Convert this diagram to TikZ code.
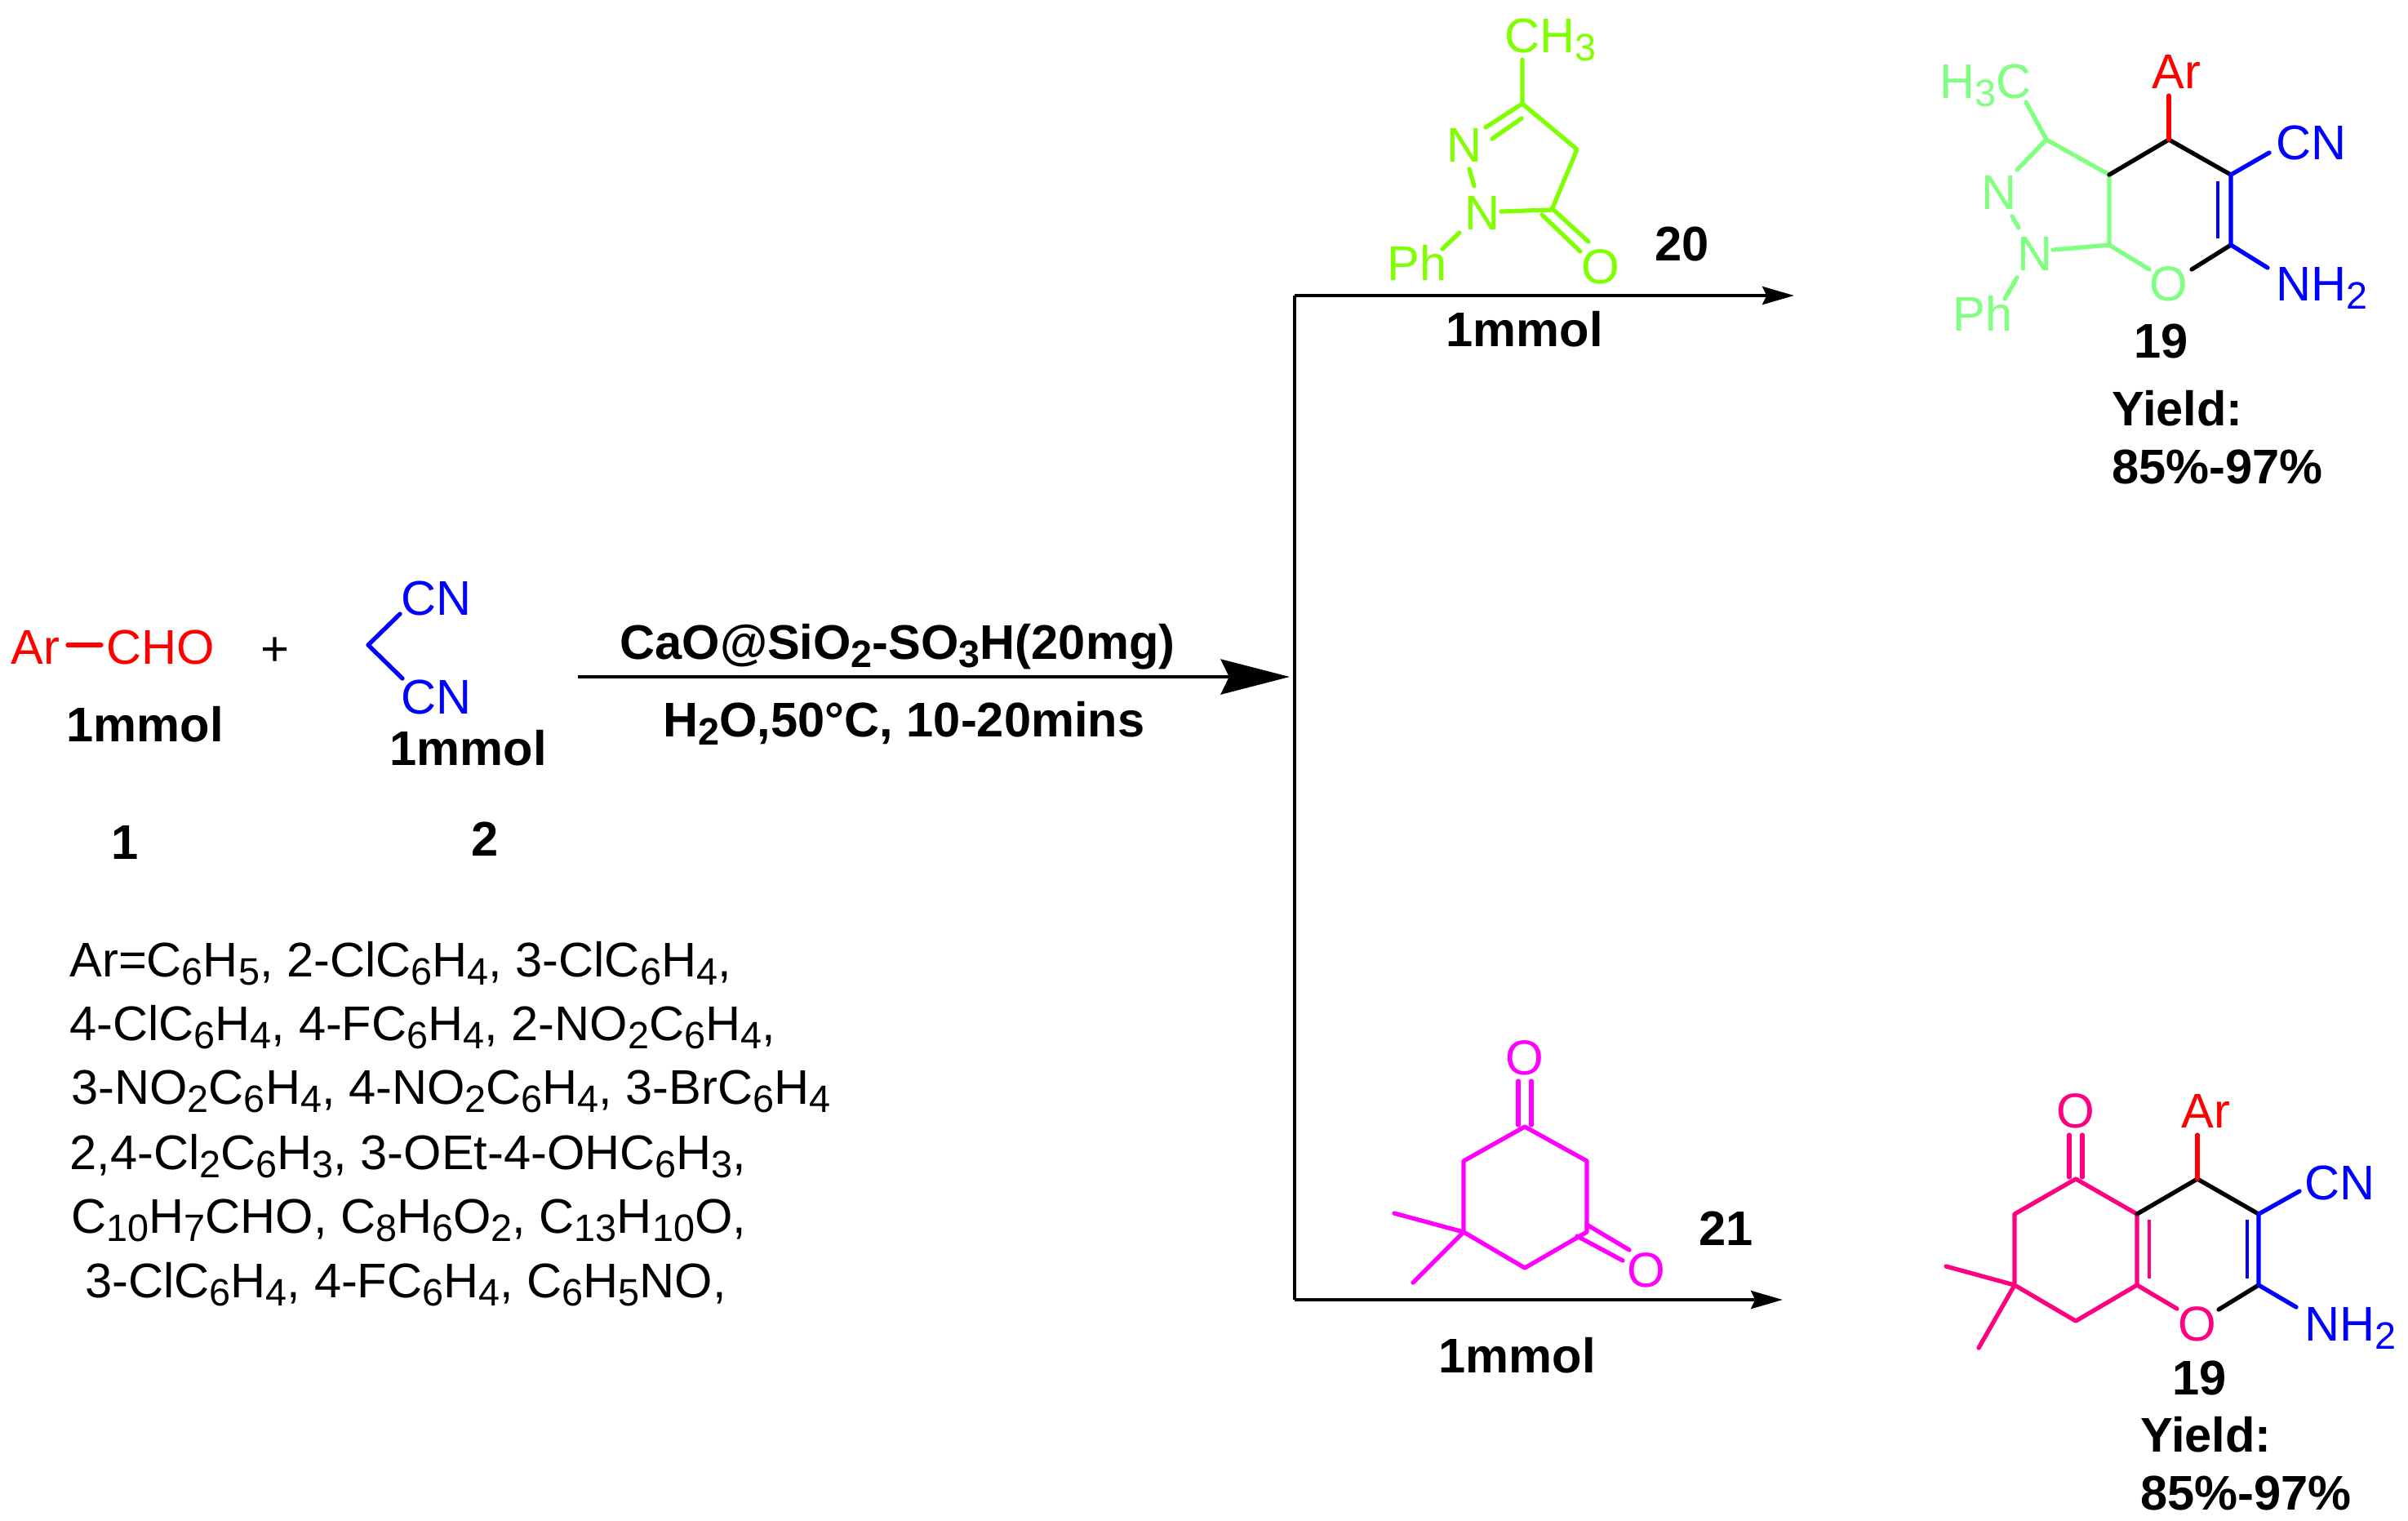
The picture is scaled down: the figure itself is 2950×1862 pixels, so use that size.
\documentclass[tikz,border=0pt]{standalone}
\usepackage{fontspec}
\usepackage{graphicx}
\setmainfont{Liberation Sans}
\usetikzlibrary{arrows.meta}
\definecolor{lime}{HTML}{7FFF00}
\definecolor{pale}{HTML}{80FF80}
\definecolor{mag}{HTML}{FF00FF}
\definecolor{hot}{HTML}{FF0080}
\definecolor{rd}{HTML}{FF0000}
\definecolor{bl}{HTML}{0000FF}
\newcommand{\sbs}[1]{\raisebox{-0.17em}{\scalebox{0.785}{#1}}}
\tikzset{
  lab/.style={anchor=base west,inner sep=0pt,outer sep=0pt,xshift=-0.015cm,font=\fontsize{16.95}{20}\selectfont},
  labc/.style={anchor=base,inner sep=0pt,outer sep=0pt,font=\fontsize{17.07}{20}\selectfont},
  blab/.style={lab,font=\fontsize{16.95}{20}\selectfont\bfseries},
  bond/.style={line width=1.5pt,line cap=round,line join=round},
  flow/.style={line width=1.4pt},
  rule/.style={line width=1.05pt},
  mainarrow/.style={flow,-{Stealth[length=24pt,width=12.2pt,inset=2.9pt]}},
  sidearrow/.style={flow,-{Stealth[length=11pt,width=6.2pt,inset=1.4pt]}}
}
\begin{document}
\begin{tikzpicture}[x=0.01cm,y=-0.01cm]
\useasboundingbox (0,0) rectangle (2950,1862);
% ---- reactants
\node[lab,text=rd] (ar1) at (15,813) {Ar};
\node[lab,text=rd] (cho) at (132,813) {CHO};
\coordinate (arE) at (83,790); \coordinate (choE) at (124,790);
\draw[bond,rd] (arE) -- (choE);
\node[labc] (plus) at (337,815) {+};
\node[lab,text=bl] (cn1) at (493,753) {CN};
\node[lab,text=bl] (cn2) at (493,874) {CN};
\coordinate (mc) at (451,790); \coordinate (mcA) at (490,752); \coordinate (mcB) at (493,831);
\draw[bond,bl] (mcA) -- (mc) -- (mcB);
\node[blab] (mm1) at (83,908) {1mmol};
\node[blab] (mm2) at (479,937) {1mmol};
\node[blab] (n1) at (138,1052) {1};
\node[blab] (n2) at (579,1048) {2};
% ---- substituent list
\node[lab] (l1) at (87,1196) {Ar=C\sbs{6}H\sbs{5}, 2-ClC\sbs{6}H\sbs{4}, 3-ClC\sbs{6}H\sbs{4},};
\node[lab] (l2) at (87,1274) {4-ClC\sbs{6}H\sbs{4}, 4-FC\sbs{6}H\sbs{4}, 2-NO\sbs{2}C\sbs{6}H\sbs{4},};
\node[lab] (l3) at (89,1352) {3-NO\sbs{2}C\sbs{6}H\sbs{4}, 4-NO\sbs{2}C\sbs{6}H\sbs{4}, 3-BrC\sbs{6}H\sbs{4}};
\node[lab] (l4) at (87,1432) {2,4-Cl\sbs{2}C\sbs{6}H\sbs{3}, 3-OEt-4-OHC\sbs{6}H\sbs{3},};
\node[lab] (l5) at (89,1510) {C\sbs{10}H\sbs{7}CHO, C\sbs{8}H\sbs{6}O\sbs{2}, C\sbs{13}H\sbs{10}O,};
\node[lab] (l6) at (106,1589) {3-ClC\sbs{6}H\sbs{4}, 4-FC\sbs{6}H\sbs{4}, C\sbs{6}H\sbs{5}NO,};
% ---- arrows
\coordinate (mA) at (708,829); \coordinate (mB) at (1580,829);
\coordinate (vT) at (1586,362); \coordinate (vB) at (1586,1592);
\coordinate (tA) at (2198,362); \coordinate (bA) at (2184,1592);
\draw[mainarrow] (mA) -- (mB);
\draw[rule] (vT) -- (vB);
\draw[sidearrow] (vT) -- (tA);
\draw[sidearrow] (vB) -- (bA);
\node[blab] (cat) at (761,807) {CaO@SiO\sbs{2}-SO\sbs{3}H(20mg)};
\node[blab] (cond) at (814,902) {H\sbs{2}O,50°C, 10-20mins};
% ---- compound 20
\node[lab,text=lime] (a1) at (1845,64) {CH\sbs{3}};
\node[lab,text=lime] (a2) at (1774,198) {N};
\node[lab,text=lime] (a3) at (1796,281) {N};
\node[lab,text=lime] (a4) at (1701,343) {Ph};
\node[labc,text=lime] (a5) at (1961,347) {O};
\coordinate (b1) at (1865,127); \coordinate (b2) at (1932,183); \coordinate (b3) at (1901,257);
\coordinate (b4) at (1865,73); \coordinate (b5) at (1820,156); \coordinate (b6) at (1828,170); \coordinate (b7) at (1864,145);
\coordinate (b8) at (1839,259); \coordinate (b9) at (1800,207); \coordinate (b10) at (1806,228);
\coordinate (b11) at (1788,285); \coordinate (b12) at (1767,305);
\coordinate (b13) at (1889,263); \coordinate (b14) at (1936,308); \coordinate (b15) at (1901,255); \coordinate (b16) at (1946,296);
\draw[bond,lime] (b4) -- (b1) -- (b2) -- (b3) -- (b8);
\draw[bond,lime] (b5) -- (b1); \draw[bond,lime] (b6) -- (b7);
\draw[bond,lime] (b9) -- (b10); \draw[bond,lime] (b11) -- (b12);
\draw[bond,lime] (b13) -- (b14); \draw[bond,lime] (b15) -- (b16);
\node[blab] (n20) at (2029,319) {20};
\node[blab] (mm3) at (1773,424) {1mmol};
% ---- product 19 (top)
\node[lab,text=pale] (c1) at (2378,120) {H\sbs{3}C};
\node[lab,text=rd] (c2) at (2638,108) {Ar};
\node[lab,text=bl] (c3) at (2790,195) {CN};
\node[lab,text=bl] (c4) at (2790,368) {NH\sbs{2}};
\node[labc,text=pale] (c5) at (2657,368) {O};
\node[lab,text=pale] (c6) at (2429,256) {N};
\node[lab,text=pale] (c7) at (2473,331) {N};
\node[lab,text=pale] (c8) at (2394,405) {Ph};
\coordinate (d1) at (2507,171); \coordinate (d2) at (2584,214); \coordinate (d3) at (2657,171);
\coordinate (d4) at (2733,214); \coordinate (d5) at (2733,300); \coordinate (d6) at (2584,300);
\coordinate (e1) at (2482,125); \coordinate (e2) at (2657,117); \coordinate (e3) at (2780,187);
\coordinate (e4) at (2778,328); \coordinate (e5) at (2685,330); \coordinate (e6) at (2633,330);
\coordinate (e7) at (2515,306); \coordinate (e8) at (2471,208); \coordinate (e9) at (2465,265);
\coordinate (e10) at (2473,279); \coordinate (e11) at (2471,340); \coordinate (e12) at (2456,366);
\coordinate (e13) at (2717,222); \coordinate (e14) at (2717,292);
\draw[bond,pale] (e1) -- (d1) -- (d2) -- (d6) -- (e6);
\draw[bond,pale] (e8) -- (d1); \draw[bond,pale] (e7) -- (d6);
\draw[bond,pale] (e9) -- (e10); \draw[bond,pale] (e11) -- (e12);
\draw[bond] (d2) -- (d3) -- (d4); \draw[bond] (d5) -- (e5);
\draw[bond,rd] (d3) -- (e2);
\draw[bond,bl] (e3) -- (d4) -- (d5) -- (e4);
\draw[line width=1pt,bl] (e13) -- (e14);
\node[blab] (n19a) at (2616,438) {19};
\node[blab] (y1) at (2589,521) {Yield:};
\node[blab] (p1) at (2589,592) {85\%-97\%};
% ---- compound 21
\node[labc,text=mag] (f1) at (1868,1316) {O};
\node[labc,text=mag] (f2) at (2017,1576) {O};
\coordinate (g1) at (1868,1380); \coordinate (g2) at (1944,1422); \coordinate (g3) at (1944,1509);
\coordinate (g4) at (1868,1553); \coordinate (g5) at (1793,1509); \coordinate (g6) at (1793,1422);
\coordinate (h1) at (1708,1486); \coordinate (h2) at (1731,1571);
\coordinate (h3) at (1860,1324); \coordinate (h4) at (1860,1378); \coordinate (h5) at (1876,1324); \coordinate (h6) at (1876,1378);
\coordinate (h7) at (1944,1500); \coordinate (h8) at (1996,1531); \coordinate (h9) at (1932,1514); \coordinate (h10) at (1988,1544);
\draw[bond,mag] (g1) -- (g2) -- (g3) -- (g4) -- (g5) -- (g6) -- cycle;
\draw[bond,mag] (h1) -- (g5) -- (h2);
\draw[bond,mag] (h3) -- (h4); \draw[bond,mag] (h5) -- (h6);
\draw[bond,mag] (h7) -- (h8); \draw[bond,mag] (h9) -- (h10);
\node[blab] (n21) at (2083,1525) {21};
\node[blab] (mm4) at (1764,1681) {1mmol};
% ---- product 19 (bottom)
\node[labc,text=hot] (i1) at (2543,1381) {O};
\node[lab,text=rd] (i2) at (2674,1381) {Ar};
\node[lab,text=bl] (i3) at (2825,1469) {CN};
\node[lab,text=bl] (i4) at (2825,1642) {NH\sbs{2}};
\node[labc,text=hot] (i5) at (2692,1642) {O};
\coordinate (j1) at (2543,1444); \coordinate (j2) at (2618,1487); \coordinate (j3) at (2692,1444);
\coordinate (j4) at (2767,1487); \coordinate (j5) at (2767,1574); \coordinate (j6) at (2618,1574);
\coordinate (j7) at (2543,1618); \coordinate (j8) at (2468,1574); \coordinate (j9) at (2468,1487);
\coordinate (k1) at (2384,1551); \coordinate (k2) at (2424,1651);
\coordinate (k3) at (2692,1390); \coordinate (k4) at (2817,1459); \coordinate (k5) at (2813,1601);
\coordinate (k6) at (2718,1604); \coordinate (k7) at (2667,1603);
\coordinate (k8) at (2535,1390); \coordinate (k9) at (2535,1442); \coordinate (k10) at (2551,1390); \coordinate (k11) at (2551,1442);
\coordinate (k12) at (2633,1494); \coordinate (k13) at (2633,1566);
\coordinate (k14) at (2753,1494); \coordinate (k15) at (2753,1566);
\draw[bond,hot] (j1) -- (j2) -- (j6) -- (j7) -- (j8) -- (j9) -- cycle;
\draw[bond,hot] (k1) -- (j8) -- (k2);
\draw[bond,hot] (j6) -- (k7);
\draw[bond,hot] (k8) -- (k9); \draw[bond,hot] (k10) -- (k11);
\draw[line width=1pt,hot] (k12) -- (k13);
\draw[bond] (j2) -- (j3) -- (j4); \draw[bond] (j5) -- (k6);
\draw[bond,rd] (j3) -- (k3);
\draw[bond,bl] (k4) -- (j4) -- (j5) -- (k5);
\draw[line width=1pt,bl] (k14) -- (k15);
\node[blab] (n19b) at (2663,1708) {19};
\node[blab] (y2) at (2624,1778) {Yield:};
\node[blab] (p2) at (2624,1849) {85\%-97\%};
\end{tikzpicture}
\end{document}
